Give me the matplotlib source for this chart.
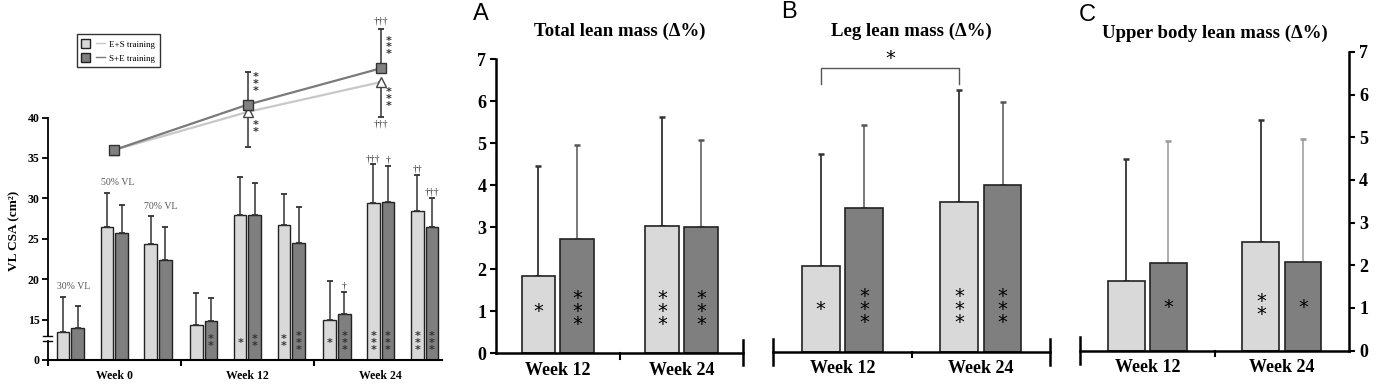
#!/usr/bin/env python3
"""
VL CSA and lean mass changes after E+S vs S+E training
"""

import numpy as np
import matplotlib
matplotlib.use('Agg')
import matplotlib.pyplot as plt
from matplotlib.lines import Line2D
from matplotlib.patches import Patch
from matplotlib.legend_handler import HandlerTuple

# ---- data: left panel (VL cross-sectional area, cm2) ----
weeks_left = ['Week 0', 'Week 12', 'Week 24']
sites = ['30% VL', '50% VL', '70% VL']
es_csa = [[13.5, 26.5, 24.3], [14.3, 27.9, 26.7], [15.0, 29.4, 28.4]]
es_csa_sd = [[4.3, 4.2, 3.5], [4.0, 4.75, 3.85], [4.8, 4.8, 4.5]]
se_csa = [[13.9, 25.7, 22.4], [14.8, 28.0, 24.5], [15.7, 29.6, 26.4]]
se_csa_sd = [[2.75, 3.5, 4.05], [2.9, 3.9, 4.4], [2.7, 4.4, 3.7]]
es_csa_stars = [[0, 0, 0], [0, 1, 2], [1, 3, 3]]
se_csa_stars = [[0, 0, 0], [2, 2, 3], [3, 3, 3]]
es_csa_dag = [['', '', ''], ['', '', ''], ['', '†††', '††']]
se_csa_dag = [['', '', ''], ['', '', ''], ['†', '†', '†††']]

# whole-muscle line (top of left panel)
es_total = [36.0, 40.7, 44.4]
es_total_sd = [0.0, 4.3, 4.3]
se_total = [36.0, 41.6, 46.1]
se_total_sd = [0.0, 4.0, 4.9]
es_total_stars = [0, 2, 3]
se_total_stars = [0, 3, 3]
total_dag = ['', '', '†††']

# ---- data: lean mass panels (delta %) ----
lean_weeks = ['Week 12', 'Week 24']
total_es = [1.83, 3.02]
total_es_sd = [2.62, 2.60]
total_se = [2.73, 3.00]
total_se_sd = [2.22, 2.09]
leg_es = [2.05, 3.57]
leg_es_sd = [2.67, 2.68]
leg_se = [3.42, 3.98]
leg_se_sd = [1.99, 1.99]
upper_es = [1.63, 2.54]
upper_es_sd = [2.87, 2.86]
upper_se = [2.05, 2.07]
upper_se_sd = [2.87, 2.89]
total_stars = ([1, 3], [3, 3])
leg_stars = ([1, 3], [3, 3])
upper_stars = ([0, 2], [1, 1])

LIGHT = '#d9d9d9'
DARK = '#7f7f7f'
EDGE = '#222222'
W, H = 1385, 385

plt.rcParams['font.family'] = ['Liberation Serif', 'DejaVu Serif']


def box(left, right, bottom, top):
    """axes rectangle from pixel positions"""
    return [left / W, 1 - bottom / H, (right - left) / W, (bottom - top) / H]


def fwd(v):
    v = np.asarray(v, dtype=float)
    return np.where(v >= 13, v, 10 + v * 3 / 13)


def inv(t):
    t = np.asarray(t, dtype=float)
    return np.where(t >= 13, t, (t - 10) * 13 / 3)


def stack(n):
    return '\n'.join(['*'] * n)


fig = plt.figure(figsize=(W / 100, H / 100), dpi=100)

# ================= left panel =================
ax = fig.add_axes(box(47.7, 441.7, 360, 16.6))
ax.set_yscale('function', functions=(fwd, inv))
ax.set_ylim(0, 52.5)
ax.set_xlim(0, 8.87)

small_star = dict(ha='center', va='center', fontsize=8, fontweight='bold',
                  family='DejaVu Sans', color='#333333', linespacing=0.62)

bw = 0.285
off = 0.165
for g in range(3):
    for s in range(3):
        xc = 3 * g + 0.513 + s * 0.985
        for k, (vals, sds, col, stars, dags) in enumerate([
                (es_csa, es_csa_sd, LIGHT, es_csa_stars, es_csa_dag),
                (se_csa, se_csa_sd, DARK, se_csa_stars, se_csa_dag)]):
            x = xc - off if k == 0 else xc + off
            v = vals[g][s]
            ax.bar(x, v, width=bw, color=col, edgecolor=EDGE, linewidth=1, zorder=2)
            ax.errorbar(x, v, yerr=[[0], [sds[g][s]]], fmt='none', ecolor='#333333',
                        elinewidth=1.1, capsize=2, capthick=1.3, zorder=3)
            n = stars[g][s]
            if n:
                ax.annotate(stack(n), (x, 0), xytext=(0, 12.5), textcoords='offset points',
                            **small_star)
            if dags[g][s]:
                ax.annotate(dags[g][s], (x, v + sds[g][s]), xytext=(0, 1),
                            textcoords='offset points', ha='center', va='bottom',
                            fontsize=7, color='#333333')
        if g == 0:
            top = max(es_csa[g][s] + es_csa_sd[g][s], se_csa[g][s] + se_csa_sd[g][s])
            ax.annotate(sites[s], (xc - off - bw / 2, top), xytext=(0, 4),
                        textcoords='offset points', ha='left', va='bottom',
                        fontsize=7, color='#555555')

# line chart over the bars
lx = [1.5, 4.5, 7.5]
ax.plot(lx, es_total, color='#c8c8c8', lw=1.6, zorder=4)
ax.plot(lx, se_total, color='#7a7a7a', lw=1.6, zorder=4)
ax.errorbar(lx, es_total, yerr=[es_total_sd, [0, 0, 0]], fmt='none', ecolor='#333333',
            elinewidth=1.1, capsize=2, capthick=1.3, zorder=3)
ax.errorbar(lx, se_total, yerr=[[0, 0, 0], se_total_sd], fmt='none', ecolor='#333333',
            elinewidth=1.1, capsize=2, capthick=1.3, zorder=3)
ax.plot(lx, es_total, ls='none', marker='^', ms=6.5, mfc='white', mec='#444444',
        mew=1, zorder=5)
ax.plot(lx, se_total, ls='none', marker='s', ms=6.5, mfc='#808080', mec='#333333',
        mew=1, zorder=6)
for i in range(3):
    if se_total_stars[i]:
        ax.annotate(stack(se_total_stars[i]), (lx[i], se_total[i]), xytext=(5.5, 15),
                    textcoords='offset points', **small_star)
    if es_total_stars[i]:
        ax.annotate(stack(es_total_stars[i]), (lx[i], es_total[i]), xytext=(5.5, -12),
                    textcoords='offset points', **small_star)
    if total_dag[i]:
        ax.annotate(total_dag[i], (lx[i], se_total[i] + se_total_sd[i]), xytext=(0, 2),
                    textcoords='offset points', ha='center', va='bottom', fontsize=7,
                    color='#333333')
        ax.annotate(total_dag[i], (lx[i], es_total[i] - es_total_sd[i]), xytext=(0, -2),
                    textcoords='offset points', ha='center', va='top', fontsize=7,
                    color='#333333')

ax.set_yticks([0, 15, 20, 25, 30, 35, 40])
ax.set_yticklabels(['0', '15', '20', '25', '30', '35', '40'], fontweight='bold', fontsize=8.5)
ax.set_xticks(lx)
ax.set_xticklabels(weeks_left, fontweight='bold', fontsize=8.5)
ax.set_xticks([0, 3, 6], minor=True)
ax.tick_params(axis='x', which='major', length=0, pad=7)
ax.tick_params(axis='x', which='minor', length=4, width=1.5, direction='out')
ax.tick_params(axis='y', length=4, width=1.3, pad=2)
for sp in ['top', 'right']:
    ax.spines[sp].set_visible(False)
ax.spines['left'].set_bounds(13, 40)
ax.spines['left'].set_linewidth(1.3)
ax.spines['bottom'].set_linewidth(1.5)
ax.plot([0, 0], [0, 10], color='black', lw=1.3, clip_on=False, zorder=1)
for yb in [10, 13]:
    ax.plot([-0.1, 0.1], [yb, yb], color='black', lw=1, clip_on=False)

handles = [(Patch(facecolor=LIGHT, edgecolor=EDGE), Line2D([], [], color='#c8c8c8', lw=1)),
           (Patch(facecolor=DARK, edgecolor=EDGE), Line2D([], [], color='#7a7a7a', lw=1))]
leg = ax.legend(handles, ['E+S training', 'S+E training'],
                handler_map={tuple: HandlerTuple(ndivide=None, pad=0.6)},
                loc='upper left', bbox_to_anchor=(0.074, 0.948), borderaxespad=0,
                fontsize=6.5, frameon=True, fancybox=False, handlelength=2.6,
                handleheight=1.2, borderpad=0.5, labelspacing=0.5, handletextpad=0.5)
leg.get_frame().set_edgecolor('black')
leg.get_frame().set_linewidth(1)

fig.text(14 / W, 1 - 231 / H, 'VL CSA (cm²)', rotation=90, ha='center', va='center',
         fontsize=9.5, fontweight='bold')

# ================= lean mass panels =================
panels = [
    ('A', 'Total lean mass (Δ%)', total_es, total_es_sd, total_se, total_se_sd,
     total_stars, box(496, 743.3, 353.3, 59.3), (481, 14), 31.7),
    ('B', 'Leg lean mass (Δ%)', leg_es, leg_es_sd, leg_se, leg_se_sd,
     leg_stars, box(773.3, 1050, 351.7, 58.4), (789, 12), 31.7),
    ('C', 'Upper body lean mass (Δ%)', upper_es, upper_es_sd, upper_se, upper_se_sd,
     upper_stars, box(1080, 1349.3, 350.7, 51.8), (1087, 15), 33.3),
]

pw = 0.273
po = 0.157
for letter, title, es, es_sd, se, se_sd, stars, rect, lpos, ty in panels:
    a = fig.add_axes(rect)
    a.set_xlim(0, 2)
    a.set_ylim(0, 7)
    x = np.arange(len(lean_weeks)) + 0.5
    a.bar(x - po, es, width=pw, color=LIGHT, edgecolor=EDGE, linewidth=1.2, zorder=2)
    a.bar(x + po, se, width=pw, color=DARK, edgecolor=EDGE, linewidth=1.2, zorder=2)
    a.errorbar(x - po, es, yerr=[[0, 0], es_sd], fmt='none', ecolor='#333333',
               elinewidth=1.3, capsize=2.2, capthick=1.8, zorder=1)
    a.errorbar(x + po, se, yerr=[[0, 0], se_sd], fmt='none',
               ecolor='#999999' if letter == 'C' else '#555555',
               elinewidth=1.1, capsize=2.2, capthick=1.8, zorder=1)
    for xs, ns in [(x - po, stars[0]), (x + po, stars[1])]:
        for xi, n in zip(xs, ns):
            if n:
                a.text(xi, 1.0, stack(n), ha='center', va='center', fontsize=14,
                       family='DejaVu Sans', color='black', linespacing=0.6)
    a.set_xticks(x)
    a.set_xticklabels(lean_weeks, fontweight='bold', fontsize=13)
    a.tick_params(axis='x', length=0, pad=6)
    for sp in ['top', 'right', 'left']:
        a.spines[sp].set_visible(False)
    a.spines['bottom'].set_linewidth(1.8)
    a.axvline(1, ymin=-0.018, ymax=0, color='black', lw=1.5, clip_on=False)
    if letter == 'A':
        a.spines['left'].set_visible(True)
        a.spines['left'].set_linewidth(1.8)
        a.set_yticks(range(8))
        a.set_yticklabels([str(i) for i in range(8)], fontweight='bold', fontsize=13)
        a.tick_params(axis='y', length=4, width=1.5, pad=3)
        a.axvline(2, ymin=-0.04, ymax=0.045, color='black', lw=1.8, clip_on=False)
    elif letter == 'B':
        a.set_yticks([])
        a.axvline(0, ymin=-0.045, ymax=0.045, color='black', lw=1.8, clip_on=False)
        a.axvline(2, ymin=-0.045, ymax=0.045, color='black', lw=1.8, clip_on=False)
        xl, xr = 0.5 - po, 1.5 - po
        a.plot([xl, xl, xr, xr], [6.38, 6.77, 6.77, 6.38], color='#555555', lw=1,
               clip_on=False)
        a.text((xl + xr) / 2, 7.0, '*', ha='center', va='center', fontsize=14,
               family='DejaVu Sans')
    else:
        a.spines['right'].set_visible(True)
        a.spines['right'].set_linewidth(1.8)
        a.yaxis.tick_right()
        a.set_yticks(range(8))
        a.set_yticklabels([str(i) for i in range(8)], fontweight='bold', fontsize=13)
        a.tick_params(axis='y', length=4, width=1.5, pad=3)
        a.axvline(0, ymin=-0.045, ymax=0.045, color='black', lw=1.8, clip_on=False)
    cx = (rect[0] + rect[2] / 2)
    fig.text(cx, 1 - ty / H, title, ha='center', va='center', fontsize=13.5,
             fontweight='bold')
    fig.text(lpos[0] / W, 1 - lpos[1] / H, letter, ha='center', va='center', fontsize=17,
             family='Liberation Sans')

plt.savefig('out.png', dpi=100)
print("Saved out.png")
